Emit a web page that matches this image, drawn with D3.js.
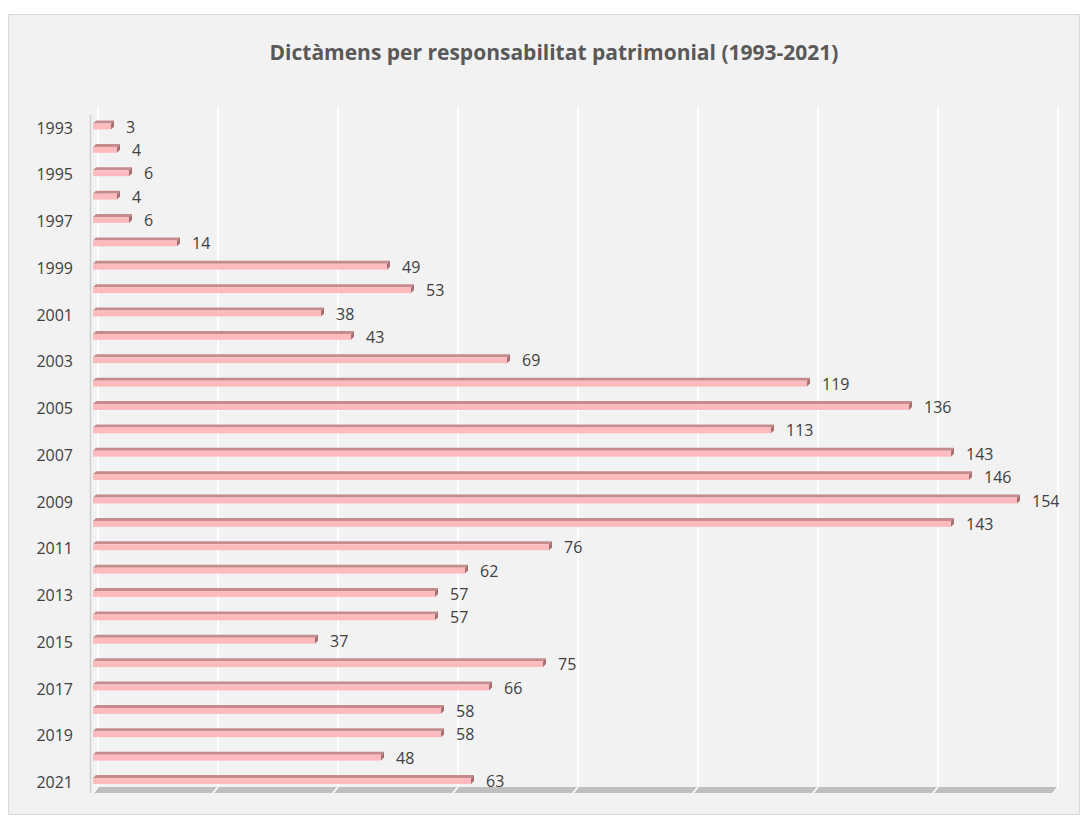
<!DOCTYPE html>
<html>
<head>
<meta charset="utf-8">
<script src="https://cdn.jsdelivr.net/npm/d3@7"></script>
<style>
  body { margin: 0; background: #ffffff; }
  text { font-family: "Open Sans", "Liberation Sans", sans-serif; }
</style>
</head>
<body>
<script>
// dades
var years = ["1993","1994","1995","1996","1997","1998","1999","2000","2001","2002",
  "2003","2004","2005","2006","2007","2008","2009","2010","2011","2012",
  "2013","2014","2015","2016","2017","2018","2019","2020","2021"];
var dictamens = [3,4,6,4,6,14,49,53,38,43,69,119,136,113,143,146,154,143,76,62,57,57,37,75,66,58,58,48,63];
var gridTicks = [0,20,40,60,80,100,120,140,160];
var title = "Dictàmens per responsabilitat patrimonial (1993-2021)";

var W = 1087, H = 821;
var svg = d3.select("body").append("svg").attr("width", W).attr("height", H);

// fons del grafic
svg.append("rect")
  .attr("x", 8.5).attr("y", 14.5)
  .attr("width", 1071).attr("height", 800)
  .style("fill", "#f2f2f2")
  .style("stroke", "#d9d9d9")
  .style("stroke-width", 1);

svg.append("text")
  .attr("x", 554).attr("y", 60)
  .attr("text-anchor", "middle")
  .style("font-size", "21px")
  .style("font-weight", "bold")
  .style("fill", "#595959")
  .text(title);

var x = d3.scaleLinear().domain([0, 160]).range([93, 1053]);
var y = d3.scaleBand().domain(years).range([113.3, 791.2]).paddingInner(0.62).paddingOuter(0.31);

var depthX = 5, depthY = 6;   // profunditat del terra / paret
var floorY = 793;
var barD = 3;                 // profunditat de les barres

// linies de la paret del fons
svg.append("g").selectAll("line")
  .data(gridTicks)
  .join("line")
  .attr("x1", function(d) { return x(d) + depthX; })
  .attr("x2", function(d) { return x(d) + depthX; })
  .attr("y1", 107)
  .attr("y2", floorY - depthY)
  .attr("stroke", "#ffffff")
  .attr("stroke-width", 2);

// terra
svg.append("polygon")
  .attr("points", [
    [x(0), floorY], [x(160), floorY],
    [x(160) + depthX, floorY - depthY], [x(0) + depthX, floorY - depthY]
  ].join(" "))
  .style("fill", "#bfbfbf");

svg.append("g").selectAll("line")
  .data(gridTicks)
  .join("line")
  .attr("x1", function(d) { return x(d); })
  .attr("x2", function(d) { return x(d) + depthX; })
  .attr("y1", floorY)
  .attr("y2", floorY - depthY)
  .attr("stroke", "#ffffff")
  .attr("stroke-width", 1.5);

// eix vertical
svg.append("line")
  .attr("x1", 90.5).attr("x2", 90.5)
  .attr("y1", 115).attr("y2", floorY)
  .attr("stroke", "#d0d0d0")
  .attr("stroke-width", 1.5);

// barres 3D
var bw = y.bandwidth() - barD;
var bars = svg.append("g").selectAll("g")
  .data(dictamens)
  .join("g");

bars.append("polygon")   // cara superior
  .attr("points", function(d, i) {
    var y0 = y(years[i]) + barD, x0 = x(0), x1 = x(d);
    return [[x0, y0], [x0 + barD, y0 - barD], [x1 + barD, y0 - barD], [x1, y0]].join(" ");
  })
  .style("fill", "#c48c8d");

bars.append("polygon")   // cara lateral
  .attr("points", function(d, i) {
    var y0 = y(years[i]) + barD, x1 = x(d);
    return [[x1, y0], [x1 + barD, y0 - barD], [x1 + barD, y0 + bw - barD], [x1, y0 + bw]].join(" ");
  })
  .style("fill", "#a87071");

bars.append("rect")      // cara frontal
  .attr("x", x(0))
  .attr("y", function(d, i) { return y(years[i]) + barD; })
  .attr("width", function(d) { return x(d) - x(0); })
  .attr("height", bw)
  .style("fill", "#ffbabd");

// etiquetes de valor
svg.append("g").selectAll("text")
  .data(dictamens)
  .join("text")
  .attr("x", function(d) { return x(d) + 15; })
  .attr("y", function(d, i) { return y(years[i]) + y.bandwidth() / 2 + 2; })
  .attr("dy", "0.35em")
  .style("font-size", "16px")
  .style("fill", "#404040")
  .text(function(d) { return d; });

// etiquetes d'any (una de cada dues)
svg.append("g").selectAll("text")
  .data(years.filter(function(d, i) { return i % 2 === 0; }))
  .join("text")
  .attr("x", 73)
  .attr("y", function(d) { return y(d) + y.bandwidth() / 2 + 3; })
  .attr("dy", "0.35em")
  .attr("text-anchor", "end")
  .style("font-size", "16px")
  .style("fill", "#404040")
  .text(function(d) { return d; });
</script>
</body>
</html>
